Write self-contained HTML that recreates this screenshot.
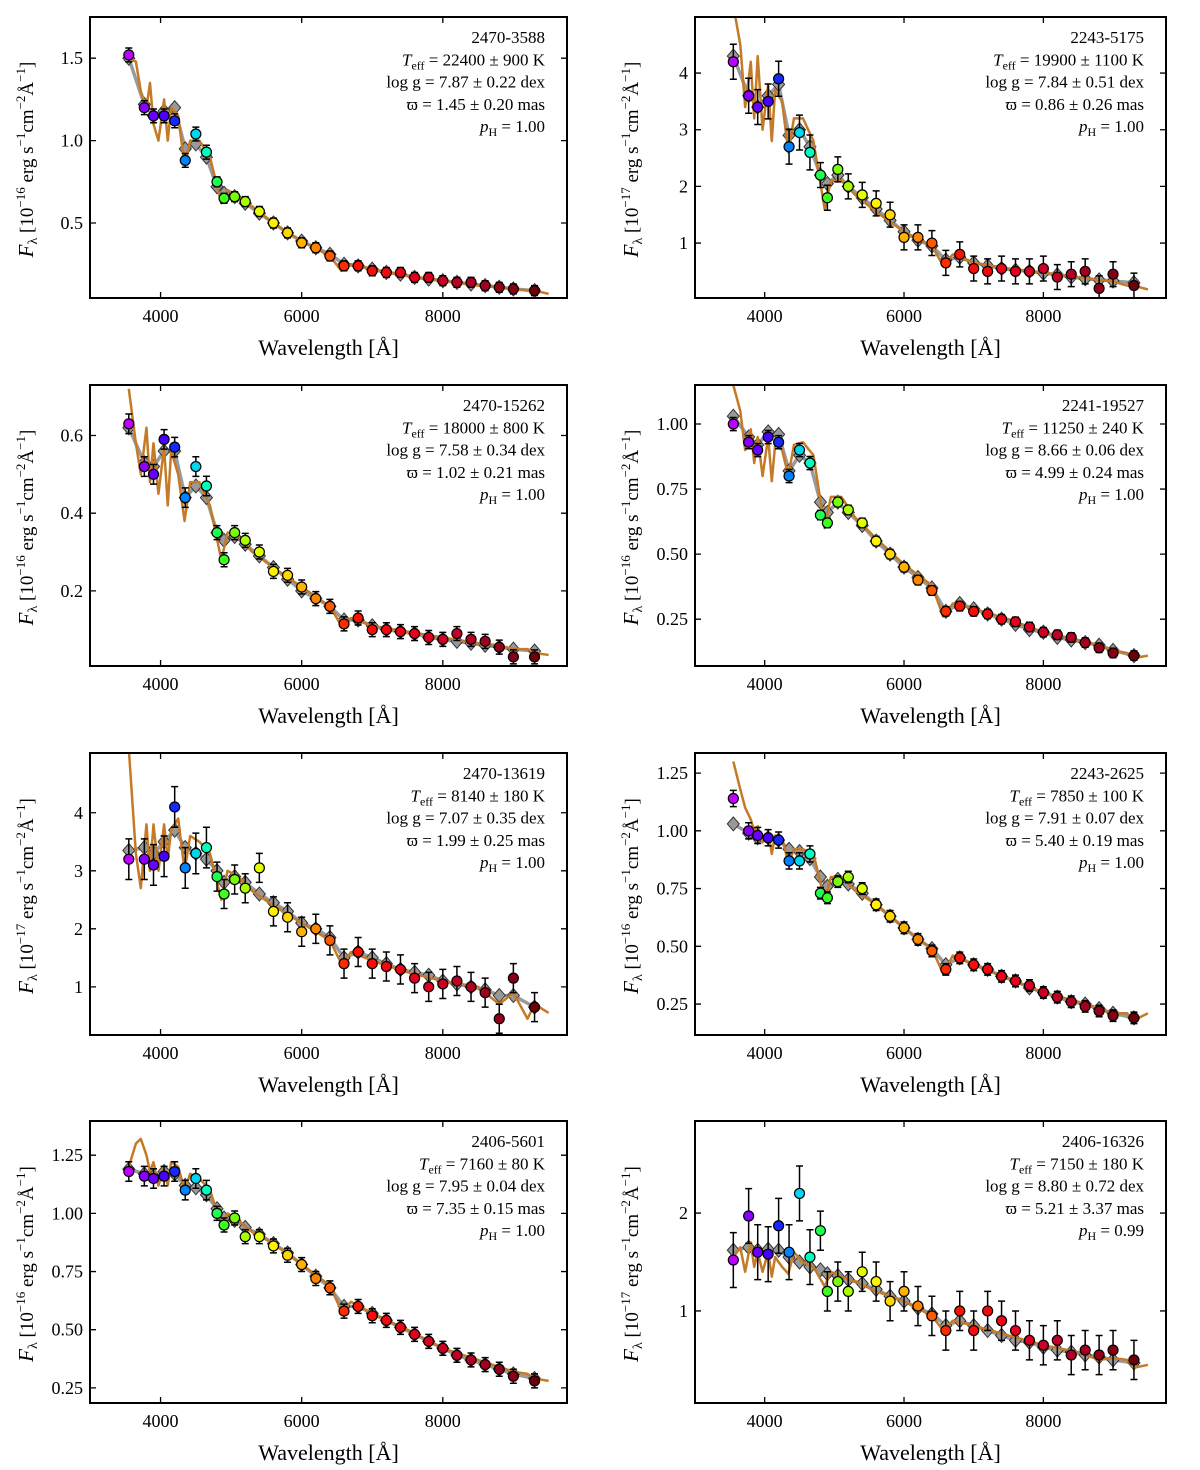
<!DOCTYPE html>
<html><head><meta charset="utf-8"><style>
body{margin:0;background:#fff}
svg{display:block;font-family:"Liberation Serif",serif}
</style></head><body>
<svg id="fig" width="1200" height="1470" viewBox="0 0 1200 1470" xmlns="http://www.w3.org/2000/svg"></svg>
<script>
// ---- data ----
const wl = [3550,3770,3900,4050,4200,4350,4500,4650,4800,4900,5050,5200,5400,5600,5800,6000,6200,6400,6600,6800,7000,7200,7400,7600,7800,8000,8200,8400,8600,8800,9000,9300];
const specWl = [3550,3650,3720,3800,3850,3900,3970,4050,4102,4150,4250,4340,4420,4550,4700,4861,4950,5100,5300,5600,6000,6400,6563,6700,7000,7500,8000,8500,8800,9000,9200,9300,9500];
const names = ["2470-3588","2243-5175","2470-15262","2241-19527","2470-13619","2243-2625","2406-5601","2406-16326"];
const teff = ["22400 ± 900","19900 ± 1100","18000 ± 800","11250 ± 240","8140 ± 180","7850 ± 100","7160 ± 80","7150 ± 180"];
const logg = ["7.87 ± 0.22","7.84 ± 0.51","7.58 ± 0.34","8.66 ± 0.06","7.07 ± 0.35","7.91 ± 0.07","7.95 ± 0.04","8.80 ± 0.72"];
const plx = ["1.45 ± 0.20","0.86 ± 0.26","1.02 ± 0.21","4.99 ± 0.24","1.99 ± 0.25","5.40 ± 0.19","7.35 ± 0.15","5.21 ± 3.37"];
const pH = ["1.00","1.00","1.00","1.00","1.00","1.00","1.00","0.99"];
const unitExp = ["16","17","16","16","17","16","16","17"];
const yMin = [0.045,0.03,0.0065,0.07,0.17,0.116,0.185,0.06];
const yMax = [1.75,4.99,0.73,1.15,5.03,1.337,1.397,2.94];
const yTicks = [[0.5,1.0,1.5],[1,2,3,4],[0.2,0.4,0.6],[0.25,0.5,0.75,1.0],[1,2,3,4],[0.25,0.5,0.75,1.0,1.25],[0.25,0.5,0.75,1.0,1.25],[1,2]];
const yTickLabels = [["0.5","1.0","1.5"],["1","2","3","4"],["0.2","0.4","0.6"],["0.25","0.50","0.75","1.00"],["1","2","3","4"],["0.25","0.50","0.75","1.00","1.25"],["0.25","0.50","0.75","1.00","1.25"],["1","2"]];
const xTicks = [4000,6000,8000];
const xTickLabels = ["4000","6000","8000"];
const errs = [0.03,0.22,0.018,0.018,0.25,0.025,0.03,0.2];
const obs = [
[1.52,1.2,1.15,1.15,1.12,0.88,1.04,0.93,0.75,0.65,0.66,0.63,0.57,0.5,0.44,0.38,0.35,0.3,0.24,0.24,0.21,0.2,0.2,0.17,0.17,0.15,0.14,0.14,0.12,0.11,0.1,0.09],
[4.2,3.6,3.4,3.5,3.9,2.7,2.95,2.6,2.2,1.8,2.3,2.0,1.85,1.7,1.5,1.1,1.1,1.0,0.65,0.8,0.55,0.5,0.55,0.5,0.5,0.55,0.4,0.45,0.5,0.2,0.45,0.25],
[0.63,0.52,0.5,0.59,0.57,0.44,0.52,0.47,0.35,0.28,0.35,0.33,0.3,0.25,0.24,0.21,0.18,0.16,0.115,0.13,0.1,0.1,0.095,0.09,0.08,0.075,0.09,0.075,0.07,0.055,0.03,0.03],
[1.0,0.93,0.9,0.95,0.93,0.8,0.9,0.85,0.65,0.62,0.7,0.67,0.62,0.55,0.5,0.45,0.4,0.36,0.28,0.3,0.28,0.27,0.25,0.24,0.22,0.2,0.19,0.18,0.16,0.14,0.12,0.11],
[3.2,3.2,3.1,3.25,4.1,3.05,3.3,3.4,2.9,2.6,2.85,2.7,3.05,2.3,2.2,1.95,2.0,1.8,1.4,1.6,1.4,1.35,1.3,1.15,1.0,1.05,1.1,1.0,0.9,0.45,1.15,0.65],
[1.14,1.0,0.98,0.97,0.96,0.87,0.87,0.9,0.73,0.71,0.78,0.8,0.75,0.68,0.63,0.58,0.53,0.48,0.4,0.45,0.42,0.4,0.37,0.35,0.33,0.3,0.28,0.26,0.24,0.22,0.2,0.19],
[1.18,1.16,1.15,1.16,1.18,1.1,1.15,1.1,1.0,0.95,0.98,0.9,0.9,0.86,0.82,0.78,0.72,0.68,0.58,0.6,0.56,0.54,0.51,0.48,0.45,0.42,0.39,0.37,0.35,0.33,0.3,0.28],
[1.52,1.97,1.6,1.58,1.87,1.6,2.2,1.55,1.82,1.2,1.3,1.2,1.4,1.3,1.1,1.2,1.05,0.95,0.8,1.0,0.8,1.0,0.9,0.8,0.7,0.65,0.7,0.55,0.6,0.55,0.6,0.5]];
const model = [
[1.5,1.22,1.15,1.18,1.2,0.95,0.98,0.9,0.72,0.68,0.66,0.62,0.56,0.5,0.44,0.39,0.35,0.31,0.25,0.24,0.22,0.2,0.19,0.17,0.16,0.15,0.14,0.13,0.12,0.11,0.1,0.09],
[4.3,3.6,3.4,3.6,3.8,2.9,3.0,2.7,2.2,2.05,2.2,2.0,1.8,1.6,1.4,1.2,1.05,0.95,0.7,0.75,0.65,0.6,0.55,0.52,0.5,0.47,0.44,0.4,0.37,0.35,0.33,0.3],
[0.62,0.53,0.52,0.56,0.56,0.44,0.47,0.44,0.35,0.33,0.34,0.32,0.29,0.26,0.23,0.2,0.18,0.16,0.125,0.125,0.11,0.1,0.095,0.09,0.08,0.075,0.07,0.065,0.06,0.055,0.05,0.045],
[1.03,0.95,0.92,0.97,0.96,0.82,0.88,0.85,0.7,0.66,0.7,0.66,0.61,0.55,0.5,0.45,0.41,0.37,0.28,0.31,0.29,0.27,0.25,0.23,0.21,0.2,0.18,0.17,0.16,0.15,0.13,0.11],
[3.35,3.4,3.3,3.5,3.7,3.4,3.3,3.2,3.0,2.8,2.9,2.8,2.6,2.45,2.3,2.1,2.0,1.85,1.5,1.6,1.5,1.4,1.3,1.25,1.2,1.1,1.05,1.0,0.95,0.85,0.85,0.65],
[1.03,0.99,0.97,0.97,0.96,0.92,0.91,0.88,0.8,0.76,0.79,0.77,0.73,0.68,0.63,0.58,0.53,0.49,0.42,0.45,0.42,0.4,0.37,0.35,0.32,0.3,0.28,0.26,0.25,0.23,0.21,0.19],
[1.19,1.17,1.16,1.18,1.17,1.12,1.11,1.08,1.02,0.98,0.97,0.94,0.91,0.87,0.83,0.78,0.73,0.68,0.6,0.6,0.57,0.54,0.51,0.48,0.45,0.42,0.39,0.37,0.35,0.33,0.31,0.29],
[1.62,1.65,1.62,1.63,1.62,1.55,1.5,1.45,1.42,1.38,1.36,1.32,1.28,1.22,1.15,1.1,1.03,0.97,0.85,0.9,0.85,0.8,0.75,0.7,0.68,0.63,0.6,0.58,0.55,0.53,0.5,0.47]];
const spec = [
[1.5,1.48,1.3,1.2,1.35,1.1,1.0,1.25,1.0,1.2,1.15,0.85,1.0,1.0,0.9,0.62,0.7,0.66,0.6,0.5,0.39,0.3,0.21,0.25,0.22,0.18,0.15,0.12,0.11,0.1,0.09,0.09,0.07],
[5.2,4.5,3.4,4.2,3.2,4.3,3.0,3.8,2.8,3.7,3.5,2.6,3.2,3.2,2.8,1.6,2.1,2.1,1.85,1.55,1.2,0.95,0.6,0.8,0.65,0.55,0.48,0.4,0.35,0.32,0.25,0.25,0.18],
[0.72,0.58,0.5,0.62,0.48,0.58,0.45,0.57,0.42,0.56,0.5,0.38,0.48,0.48,0.42,0.28,0.35,0.34,0.3,0.26,0.21,0.16,0.11,0.13,0.11,0.095,0.08,0.065,0.06,0.05,0.05,0.04,0.035],
[1.15,1.05,0.9,0.98,0.85,0.95,0.8,0.95,0.78,0.92,0.9,0.8,0.92,0.93,0.88,0.6,0.72,0.72,0.64,0.56,0.46,0.38,0.26,0.31,0.29,0.25,0.2,0.17,0.15,0.13,0.12,0.1,0.11],
[5.1,3.3,2.7,3.8,3.0,3.8,3.0,3.8,3.2,3.7,3.9,3.0,3.6,3.5,3.3,2.5,3.0,2.9,2.65,2.4,2.1,1.8,1.4,1.6,1.45,1.25,1.1,1.0,0.7,0.9,0.45,0.7,0.55],
[1.3,1.18,1.1,1.05,1.0,1.02,0.95,1.0,0.9,0.98,0.97,0.86,0.92,0.92,0.9,0.7,0.8,0.8,0.74,0.68,0.58,0.49,0.38,0.46,0.42,0.36,0.3,0.26,0.23,0.21,0.21,0.18,0.21],
[1.2,1.3,1.32,1.25,1.18,1.22,1.12,1.2,1.12,1.22,1.2,1.1,1.17,1.15,1.1,0.95,1.0,0.97,0.92,0.87,0.78,0.69,0.58,0.62,0.57,0.5,0.42,0.37,0.34,0.32,0.31,0.29,0.28],
[1.55,1.65,1.4,1.7,1.45,1.6,1.4,1.6,1.35,1.55,1.45,1.38,1.6,1.5,1.45,1.25,1.4,1.35,1.3,1.2,1.1,0.95,0.8,0.9,0.85,0.75,0.65,0.58,0.5,0.52,0.5,0.42,0.45]];

// ---- layout ----
const NS = "http://www.w3.org/2000/svg";
const svg = document.getElementById('fig');
const colX = [[90,567],[695,1166]];
const rowY = [[17,298],[385,666],[753,1035],[1121,1403]];
const X0 = 3000, X1 = 9760;
function mk(tag, attrs, parent){const e=document.createElementNS(NS,tag);for(const k in attrs)e.setAttribute(k,attrs[k]);(parent||svg).appendChild(e);return e;}
const cstops=[[3550,[190,0,255]],[3800,[130,0,255]],[4100,[60,0,255]],[4250,[0,60,255]],[4450,[0,200,255]],[4650,[0,255,190]],[4850,[40,255,40]],[5100,[140,255,0]],[5500,[255,255,0]],[5900,[255,200,0]],[6300,[255,110,0]],[6700,[255,20,0]],[7600,[230,0,30]],[8300,[185,0,40]],[9300,[110,0,10]]];
function wcol(w){if(w<=cstops[0][0])return 'rgb('+cstops[0][1]+')';for(let i=1;i<cstops.length;i++){if(w<=cstops[i][0]){const t=(w-cstops[i-1][0])/(cstops[i][0]-cstops[i-1][0]);const a=cstops[i-1][1],b=cstops[i][1];return 'rgb('+a.map((v,j)=>Math.round(v+(b[j]-v)*t)).join(',')+')';}}return 'rgb('+cstops[cstops.length-1][1]+')';}

for(let p=0;p<8;p++){
  const [L,R]=colX[p%2], [T,B]=rowY[Math.floor(p/2)];
  const xs=w=>L+(w-X0)/(X1-X0)*(R-L);
  const ys=v=>B-(v-yMin[p])/(yMax[p]-yMin[p])*(B-T);
  const g=mk('g',{});
  
  
  const cid='clip'+p;
  const cp=mk('clipPath',{id:cid},g); mk('rect',{x:L,y:T,width:R-L,height:B-T},cp);
  const plot=mk('g',{'clip-path':'url(#'+cid+')'},g);
  const gl=mk('polyline',{points:wl.map((w,i)=>xs(w)+','+ys(model[p][i])).join(' '),fill:'none',stroke:'#9a9a9a','stroke-width':3.5},plot);
  
  
  wl.forEach((w,i)=>{const x=xs(w),y=ys(model[p][i]);const d=mk('polygon',{points:`${x},${y-7} ${x+6},${y} ${x},${y+7} ${x-6},${y}`,fill:'#999',stroke:'#333','stroke-width':1},plot);
    
    });
  const sl=mk('polyline',{points:specWl.map((w,i)=>xs(w)+','+ys(spec[p][i])).join(' '),fill:'none',stroke:'#c47a26','stroke-width':2.5,'stroke-linejoin':'round'},plot);
  
  
  wl.forEach((w,i)=>{const x=xs(w),y=ys(obs[p][i]);const e=errs[p]*(i<8?1.4:1);
    const y1=ys(obs[p][i]+e),y2=ys(obs[p][i]-e);
    const eb=mk('path',{d:`M${x},${y1}V${y2}M${x-3.5},${y1}H${x+3.5}M${x-3.5},${y2}H${x+3.5}`,stroke:'#000','stroke-width':1.5,fill:'none'},plot);
    
    
    const c=mk('circle',{cx:x,cy:y,r:5,fill:wcol(w),stroke:'#000','stroke-width':1.2},plot);
    
    });
  const fr=mk('rect',{x:L,y:T,width:R-L,height:B-T,fill:'none',stroke:'#000','stroke-width':2},g);
  
  
  xTicks.forEach((t,i)=>{const x=xs(t);mk('path',{d:`M${x},${B}v-6M${x},${T}v6`,stroke:'#000','stroke-width':1.3},g);
    const tl=mk('text',{x:x,y:B+24,'text-anchor':'middle','font-size':18},g);tl.textContent=xTickLabels[i];
    
    });
  yTicks[p].forEach((t,i)=>{const y=ys(t);mk('path',{d:`M${L},${y}h6M${R},${y}h-6`,stroke:'#000','stroke-width':1.3},g);
    const tl=mk('text',{x:L-7,y:y+6,'text-anchor':'end','font-size':18},g);tl.textContent=yTickLabels[p][i];
    
    });
  const xl=mk('text',{x:(L+R)/2,y:B+57,'text-anchor':'middle','font-size':22},g);xl.textContent='Wavelength [Å]';
  
  
  const yc=(T+B)/2+2, yx=L-57;
  const yl=mk('text',{x:0,y:0,'text-anchor':'middle','font-size':19,transform:`translate(${yx},${yc}) rotate(-90)`},g);
  yl.innerHTML=`<tspan font-style="italic" font-size="21">F</tspan><tspan font-size="14" dy="4">λ</tspan><tspan dy="-4"> [10</tspan><tspan font-size="13" dy="-8">−${unitExp[p]}</tspan><tspan dy="8"> erg s</tspan><tspan font-size="13" dy="-8">−1</tspan><tspan dy="8">cm</tspan><tspan font-size="13" dy="-8">−2</tspan><tspan dy="8">Å</tspan><tspan font-size="13" dy="-8">−1</tspan><tspan dy="8">]</tspan>`;
  
  
  const ax=R-22;
  const lines=[names[p],
    `<tspan font-style="italic">T</tspan><tspan font-size="12" dy="4">eff</tspan><tspan dy="-4"> = ${teff[p]} K</tspan>`,
    `log g = ${logg[p]} dex`,
    `ϖ = ${plx[p]} mas`,
    `<tspan font-style="italic">p</tspan><tspan font-size="12" dy="4">H</tspan><tspan dy="-4"> = ${pH[p]}</tspan>`];
  lines.forEach((s,i)=>{const t=mk('text',{x:ax,y:T+26+i*22.3,'text-anchor':'end','font-size':17},g);t.innerHTML=s;
    
    });
}
</script>
</body></html>
